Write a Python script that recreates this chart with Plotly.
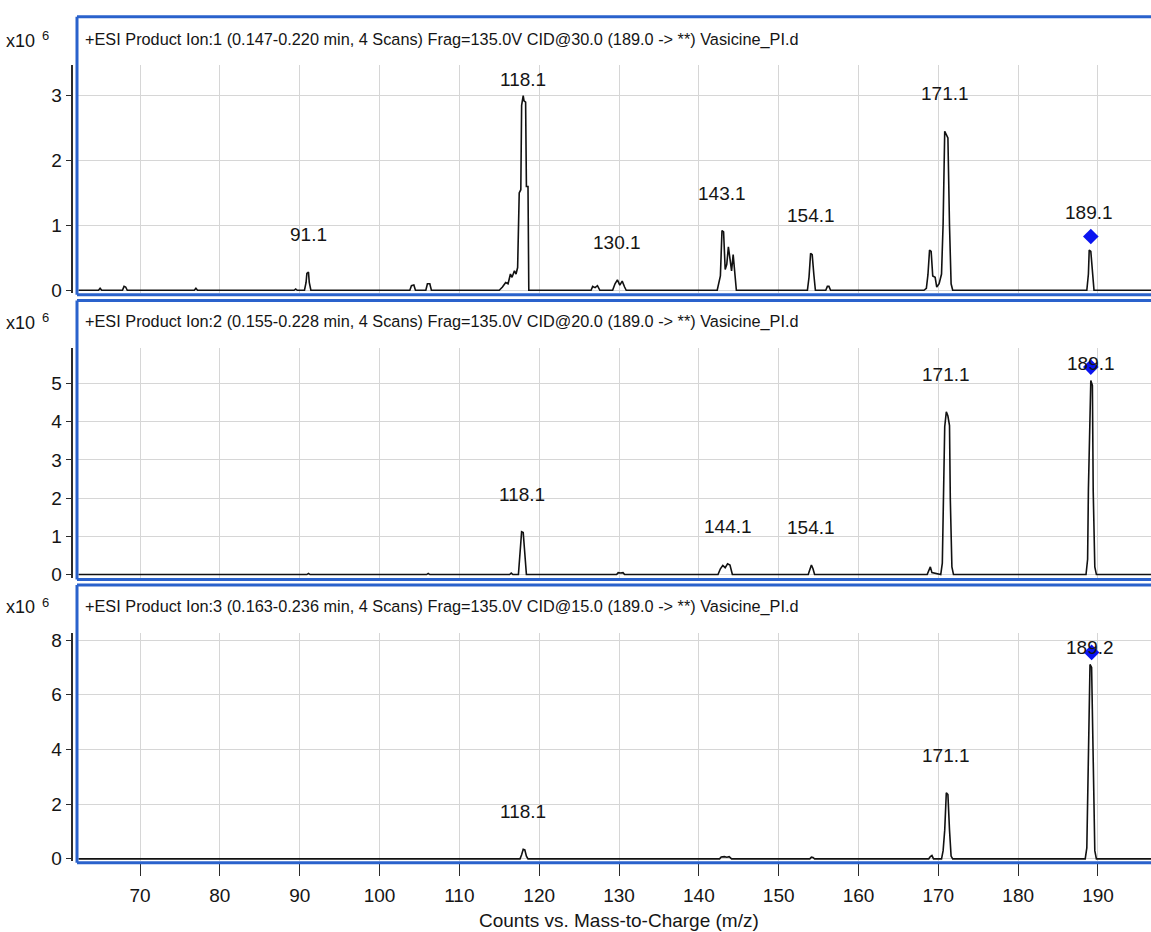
import plotly.graph_objects as go

# ---------------- data (intensity in units of 10^6 counts) ----------------
mz_1 = [62.3, 64.8, 65.0, 65.2, 67.8, 68.0, 68.2, 68.4, 76.8, 77.0, 77.2, 89.3, 89.5, 89.7,
        90.6, 90.8, 90.9, 91.1, 91.2, 91.4,
        103.8, 104.0, 104.3, 104.5, 105.8, 106.0, 106.3, 106.5,
        115.0, 115.4, 115.8, 116.1, 116.4, 116.6, 116.9, 117.1, 117.3, 117.5, 117.7, 117.8, 118.0, 118.1, 118.3, 118.4, 118.6, 118.7,
        126.5, 126.7, 127.0, 127.3, 127.6, 129.2, 129.5, 129.8, 130.1, 130.4, 130.7, 130.9,
        142.3, 142.5, 142.7, 142.9, 143.1, 143.3, 143.5, 143.7, 143.9, 144.1, 144.3, 144.5, 144.7,
        153.6, 153.8, 154.0, 154.2, 154.4, 154.6, 155.9, 156.1, 156.3, 156.5,
        168.2, 168.5, 168.7, 168.9, 169.1, 169.3, 169.6, 169.8, 170.1, 170.4, 170.6, 170.8, 171.0, 171.2, 171.4, 171.6, 171.8,
        188.6, 188.8, 188.9, 189.1, 189.3, 189.5, 196.7]
int_1 = [0, 0, 0.03, 0, 0, 0.06, 0.05, 0, 0, 0.03, 0, 0, 0.02, 0,
         0, 0.12, 0.26, 0.28, 0.12, 0,
         0, 0.07, 0.08, 0, 0, 0.1, 0.1, 0,
         0, 0.05, 0.12, 0.1, 0.25, 0.2, 0.3, 0.25, 0.35, 1.5, 1.55, 2.85, 3.0, 2.92, 2.9, 1.6, 1.6, 0,
         0, 0.06, 0.04, 0.07, 0, 0, 0.1, 0.16, 0.08, 0.14, 0.05, 0,
         0, 0.1, 0.22, 0.92, 0.9, 0.32, 0.4, 0.67, 0.45, 0.3, 0.55, 0.2, 0,
         0, 0.2, 0.57, 0.55, 0.25, 0, 0, 0.06, 0.06, 0,
         0, 0.03, 0.24, 0.62, 0.6, 0.22, 0.2, 0.05, 0.1, 0.25, 1.03, 2.45, 2.4, 2.35, 1.0, 0.1, 0,
         0, 0.25, 0.62, 0.6, 0.25, 0, 0]

mz_2 = [62.3, 90.9, 91.1, 91.3, 105.9, 106.1, 106.3, 116.3, 116.5, 116.7,
        117.4, 117.6, 117.8, 118.0, 118.2, 118.4,
        129.7, 129.9, 130.2, 130.5, 130.7,
        142.4, 142.7, 143.0, 143.3, 143.6, 143.9, 144.2,
        153.7, 153.9, 154.1, 154.3, 154.5,
        168.6, 168.8, 169.0, 169.2,
        170.3, 170.5, 170.6, 170.8, 171.0, 171.2, 171.4, 171.5, 171.7, 171.9,
        188.5, 188.7, 188.8, 189.0, 189.1, 189.3, 189.4, 189.6, 189.8, 196.7]
int_2 = [0, 0, 0.03, 0, 0, 0.03, 0, 0, 0.04, 0,
         0, 0.5, 1.12, 1.1, 0.55, 0,
         0, 0.05, 0.04, 0.05, 0,
         0, 0.15, 0.24, 0.18, 0.28, 0.25, 0,
         0, 0.15, 0.25, 0.15, 0,
         0, 0.1, 0.2, 0.05,
         0, 0.3, 1.97, 3.87, 4.26, 4.15, 3.9, 1.97, 0.2, 0,
         0, 0.4, 2.23, 4.9, 5.08, 4.95, 2.2, 0.2, 0, 0]

mz_3 = [62.3, 117.6, 117.8, 118.0, 118.2, 118.4, 118.6,
        142.6, 142.8, 143.2, 143.5, 143.8, 144.1,
        153.9, 154.1, 154.3, 154.5,
        168.8, 169.0, 169.2, 169.4,
        170.4, 170.6, 170.8, 171.0, 171.2, 171.4, 171.6, 171.8,
        188.4, 188.6, 188.8, 189.0, 189.2, 189.4, 189.6, 189.8, 196.7]
int_3 = [0, 0, 0.15, 0.35, 0.33, 0.1, 0,
         0, 0.07, 0.08, 0.06, 0.08, 0,
         0, 0.06, 0.05, 0,
         0, 0.08, 0.12, 0,
         0, 0.3, 1.05, 2.42, 2.35, 1.05, 0.1, 0,
         0, 0.4, 3.68, 7.11, 7.0, 3.68, 0.3, 0, 0]

labels_1 = ["91.1", "118.1", "130.1", "143.1", "154.1", "171.1", "189.1"]
labels_2 = ["118.1", "144.1", "154.1", "171.1", "189.1"]
labels_3 = ["118.1", "171.1", "189.2"]

precursor_mz = [189.1, 189.1, 189.2]
precursor_int = [0.83, 5.43, 7.55]

titles = [
    "+ESI Product Ion:1 (0.147-0.220 min, 4 Scans) Frag=135.0V CID@30.0 (189.0 -> **) Vasicine_PI.d",
    "+ESI Product Ion:2 (0.155-0.228 min, 4 Scans) Frag=135.0V CID@20.0 (189.0 -> **) Vasicine_PI.d",
    "+ESI Product Ion:3 (0.163-0.236 min, 4 Scans) Frag=135.0V CID@15.0 (189.0 -> **) Vasicine_PI.d",
]
x_ticks = [70, 80, 90, 100, 110, 120, 130, 140, 150, 160, 170, 180, 190]
y_ticks = [[0, 1, 2, 3], [0, 1, 2, 3, 4, 5], [0, 2, 4, 6, 8]]
x_title = "Counts vs. Mass-to-Charge (m/z)"
scale_base = "x10"
scale_exp = "6"

# ---------------- layout geometry (pixels) ----------------
W, H = 1151, 932
FONT = "Liberation Sans, Arial, sans-serif"
BLUE = "#2a62cc"
GRID = "#d6d6d6"
AX = "#2b2b2b"
TXT = "#151515"

def fx(px):
    return px / W

def fy(py):
    return 1 - py / H

x_left_px = 78
x_range = [62.23, 196.64]
# (plot top px, plot bottom px, zero px, px per unit)
panels = [
    (63, 294, 291, 65.7),
    (350, 582, 579, 38.7),
    (638, 869, 867, 27.7),
]
frames = [(14, 295.5), (301.5, 584), (589.5, 871)]
title_y = [37, 323, 611]
axis_x_px = 71.5

spectra = [(mz_1, int_1), (mz_2, int_2), (mz_3, int_3)]
all_labels = [labels_1, labels_2, labels_3]

fig = go.Figure()
layout = dict(
    width=W, height=H,
    margin=dict(l=0, r=0, t=0, b=0),
    paper_bgcolor="white", plot_bgcolor="white",
    showlegend=False,
    font=dict(family=FONT, color=TXT, size=19),
)
annotations = []
shapes = []

for i, ((top, bot, zero, ppu), (mzs, ints)) in enumerate(zip(panels, spectra)):
    k = "" if i == 0 else str(i + 1)
    xa, ya = "x" + k, "y" + k
    fig.add_trace(go.Scatter(x=mzs, y=ints, mode="lines", xaxis=xa, yaxis=ya,
                             line=dict(color="#111111", width=1.6), hoverinfo="skip"))
    fig.add_trace(go.Scatter(x=[precursor_mz[i]], y=[precursor_int[i]], mode="markers",
                             xaxis=xa, yaxis=ya,
                             marker=dict(symbol="diamond", size=12, color="#0a14f0"),
                             hoverinfo="skip", cliponaxis=False))
    y_rng = [-(bot - zero) / ppu, (zero - top) / ppu]
    layout["xaxis" + k] = dict(
        domain=[fx(x_left_px), 1], range=x_range, anchor=ya,
        showgrid=True, gridcolor=GRID, gridwidth=1, tickvals=x_ticks,
        showline=False, zeroline=False,
        showticklabels=(i == 2),
        ticks="outside" if i == 2 else "", ticklen=14, tickcolor=AX, tickwidth=1.3,
        ticklabelstandoff=3,
        tickfont=dict(size=19, family=FONT, color=TXT),
    )
    layout["yaxis" + k] = dict(
        domain=[fy(bot), fy(top)], range=y_rng, anchor="free", position=fx(axis_x_px),
        showgrid=True, gridcolor=GRID, gridwidth=1, tickvals=y_ticks[i],
        zeroline=False, showline=True, linecolor=AX, linewidth=1.6,
        ticks="outside", ticklen=5, tickcolor=AX, tickwidth=1.3,
        tickfont=dict(size=19, family=FONT, color=TXT),
    )
    # peak labels
    for lab in all_labels[i]:
        v = float(lab)
        cand = [(y, x) for x, y in zip(mzs, ints) if abs(x - v) <= 0.7]
        peak, pk_x = max(cand)
        peak_px = zero - peak * ppu
        lab_px = max(top + 15, peak_px - 38)
        annotations.append(dict(
            x=pk_x, y=(zero - lab_px) / ppu, xref=xa, yref=ya, text=lab,
            showarrow=False, xanchor="center", yanchor="middle",
            font=dict(size=19, family=FONT, color=TXT)))
    # panel title and exponent
    annotations.append(dict(x=fx(83), y=fy(title_y[i]), xref="paper", yref="paper",
                            text=titles[i], showarrow=False, xanchor="left", yanchor="middle",
                            font=dict(size=16.3, family=FONT, color=TXT)))
    annotations.append(dict(x=fx(4), y=fy(title_y[i] + 1), xref="paper", yref="paper",
                            text=scale_base, showarrow=False, xanchor="left", yanchor="middle",
                            font=dict(size=18, family=FONT, color=TXT)))
    annotations.append(dict(x=fx(40), y=fy(title_y[i] - 4), xref="paper", yref="paper",
                            text=scale_exp, showarrow=False, xanchor="left", yanchor="middle",
                            font=dict(size=13, family=FONT, color=TXT)))
    # blue panel frame
    ft, fb = frames[i]
    for (x0, y0, x1, y1) in [(77, ft, 1160, ft), (77, fb, 1160, fb), (77, ft, 77, fb)]:
        shapes.append(dict(type="line", xref="paper", yref="paper",
                           x0=fx(x0), y0=fy(y0), x1=fx(x1), y1=fy(y1),
                           line=dict(color=BLUE, width=3)))

annotations.append(dict(x=fx(619), y=fy(929), xref="paper", yref="paper", text=x_title,
                        showarrow=False, xanchor="center", yanchor="middle",
                        font=dict(size=19, family=FONT, color=TXT)))

layout["annotations"] = annotations
layout["shapes"] = shapes
fig.update_layout(**layout)
fig.write_html("out.html")
